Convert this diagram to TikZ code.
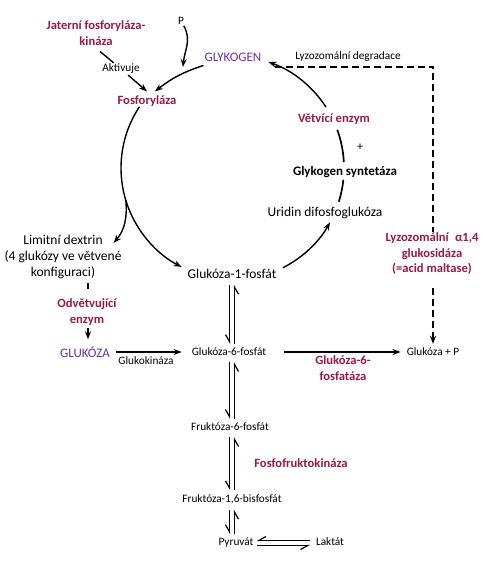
\documentclass[tikz,border=0pt]{standalone}
\usepackage{fontspec}
\setmainfont{Carlito}
\usepackage{tikz}
\usetikzlibrary{arrows.meta, positioning, calc}
\definecolor{enzred}{RGB}{155,24,72}
\definecolor{glypurple}{RGB}{112,48,160}

\begin{document}
\begin{tikzpicture}[
  x=1pt, y=1pt,
  enz/.style={font=\bfseries\fontsize{12.6}{15.5}\selectfont, text=enzred,
              align=center, inner sep=1pt},
  met/.style={font=\fontsize{13.5}{16}\selectfont, align=center, inner sep=1pt},
  sml/.style={font=\fontsize{11.3}{13}\selectfont, inner sep=1pt},
  pur/.style={font=\fontsize{13}{15}\selectfont, text=glypurple, inner sep=1pt},
  arr/.style={line width=1.4pt, -{Stealth[length=8pt,width=6pt]}},
  ln/.style={line width=1.4pt},
  cyc/.style={line width=1.7pt},
  harp/.style={line width=1.2pt, -{Straight Barb[harpoon,swap,length=7pt,width=8pt]}},
  dashln/.style={line width=1.5pt, dash pattern=on 7pt off 4pt}
]
\useasboundingbox[fill=white] (0,0) rectangle (493,-570);

% Top: kinase, P, glycogen
\node[enz] (kin)    at (96,-33)  {Jaterní fosforyláza-\\kináza};
\node[sml] (p)      at (181,-21) {P};
\node[pur] (glyk)   at (233,-57) {GLYKOGEN};
\node[sml] (lyzdeg) at (348,-57) {Lyzozomální degradace};
\node[sml] (akt)    at (121,-69) {Aktivuje};
\node[enz] (fosf)   at (147,-101) {Fosforyláza};

% Right side of the cycle
\node[enz] (vetv) at (334,-119) {Větvící enzym};
\node[font=\fontsize{12}{14}\selectfont, inner sep=1pt] (plus) at (360,-147) {+};
\node[font=\bfseries\fontsize{13}{15}\selectfont, inner sep=1pt] (gsyn) at (345,-172) {Glykogen syntetáza};
\node[met] (udpg) at (325,-213) {Uridin difosfoglukóza};

% Left branch
\node[met] (ld)   at (63,-257) {Limitní dextrin\\(4 glukózy ve větvené\\konfiguraci)};
\node[enz] (odv)  at (87,-312) {Odvětvující\\enzym};
\node[pur] (gluk) at (85,-352) {GLUKÓZA};
\node[sml] (gkin) at (146,-361) {Glukokináza};

% Main column
\node[met] (g1p)   at (232,-274) {Glukóza-1-fosfát};
\node[sml] (g6p)   at (229,-352) {Glukóza-6-fosfát};
\node[sml] (f6p)   at (230,-427) {Fruktóza-6-fosfát};
\node[enz] (pfk)   at (301,-463) {Fosfofruktokináza};
\node[sml] (f16bp) at (232,-499) {Fruktóza-1,6-bisfosfát};
\node[sml] (pyr)   at (236,-543) {Pyruvát};
\node[sml] (lak)   at (330,-542) {Laktát};

% Lysosomal route
\node[enz] (lyzgl)  at (432,-254) {Lyzozomální\enspace α1,4\\glukosidáza\\(=acid maltase)};
\node[sml] (glukp)  at (433,-352) {Glukóza + P};
\node[enz] (g6pase) at (343,-368) {Glukóza-6-\\fosfatáza};

% Points on the cycle
\coordinate (cc) at (232,-168);
\coordinate (c1) at ($(cc)+(146.5:111)$);
\coordinate (c2) at ($(cc)+(197:111)$);
\coordinate (c3) at ($(cc)+(-63:112)$);
\coordinate (c4) at ($(cc)+(-17.5:112)$);
\coordinate (c5) at ($(cc)+(3:112)$);
\coordinate (c6) at ($(cc)+(33:112)$);
\coordinate (pj) at (183,-67);

% Arrows into Fosforyláza
\draw[ln] ([xshift=4pt,yshift=-5pt]kin.south) -- (akt);
\draw[arr] (akt) -- ([yshift=3pt]fosf.north);
\draw[arr] (p) to[out=-60, in=85] (pj);
\draw[arr] ([yshift=-3pt]glyk.south west) to[bend right=10] ([xshift=8pt,yshift=3pt]fosf.north);

% Cycle
\draw[cyc, arr] (c1) arc[start angle=146.5, end angle=243, radius=111];
\draw[arr] (c2) to[out=-85, in=50] ([xshift=-9pt,yshift=-9pt]ld.north east);
\draw[cyc, arr] (c3) arc[start angle=-63, end angle=-29, radius=112];
\draw[cyc] (c4) arc[start angle=-17.5, end angle=-6, radius=112];
\draw[cyc] (c5) arc[start angle=3, end angle=20, radius=112];
\draw[cyc, arr] (c6) arc[start angle=33, end angle=71, radius=112];

% Lysosomal degradation (dashed)
\draw[dashln] ([xshift=12pt,yshift=-4.5pt]glyk.south east) -| ([xshift=1pt]lyzgl.north);
\draw[dashln, -{Stealth[length=8pt,width=6pt]}] ([xshift=1pt,yshift=-12pt]lyzgl.south)
  -- ([xshift=1pt,yshift=3pt]lyzgl.south |- glukp.north);

% Debranching to glucose
\draw[ln] ([xshift=25pt,yshift=-3pt]ld.south) -- ++(0,-6);
\draw[arr, shorten <=2pt, shorten >=6pt] ([xshift=1pt]odv.south) -- ([xshift=1pt]odv.south |- gluk.north);
\draw[arr, shorten <=5pt, shorten >=9pt] (gluk.east) -- (g6p.west);
\draw[arr, shorten <=17pt, shorten >=5pt] (g6p.east) -- (glukp.west);

% Equilibria
\coordinate (ax) at (232,0);
\foreach \a/\b in {g1p/g6p, g6p/f6p, f6p/f16bp, f16bp/pyr}{
  \draw[harp, shorten <=5pt, shorten >=3pt] ([xshift=-2.5pt]\a.south -| ax) -- ([xshift=-2.5pt]\b.north -| ax);
  \draw[harp, shorten <=3pt, shorten >=5pt] ([xshift=2.5pt]\b.north -| ax) -- ([xshift=2.5pt]\a.south -| ax);
}
\draw[harp, shorten <=2pt, shorten >=5pt] ([yshift=-2.5pt]pyr.east) -- ([yshift=-2.5pt]pyr.east -| lak.west);
\draw[harp, shorten <=5pt, shorten >=2pt] ([yshift=2.5pt]pyr.east -| lak.west) -- ([yshift=2.5pt]pyr.east);

\end{tikzpicture}
\end{document}
